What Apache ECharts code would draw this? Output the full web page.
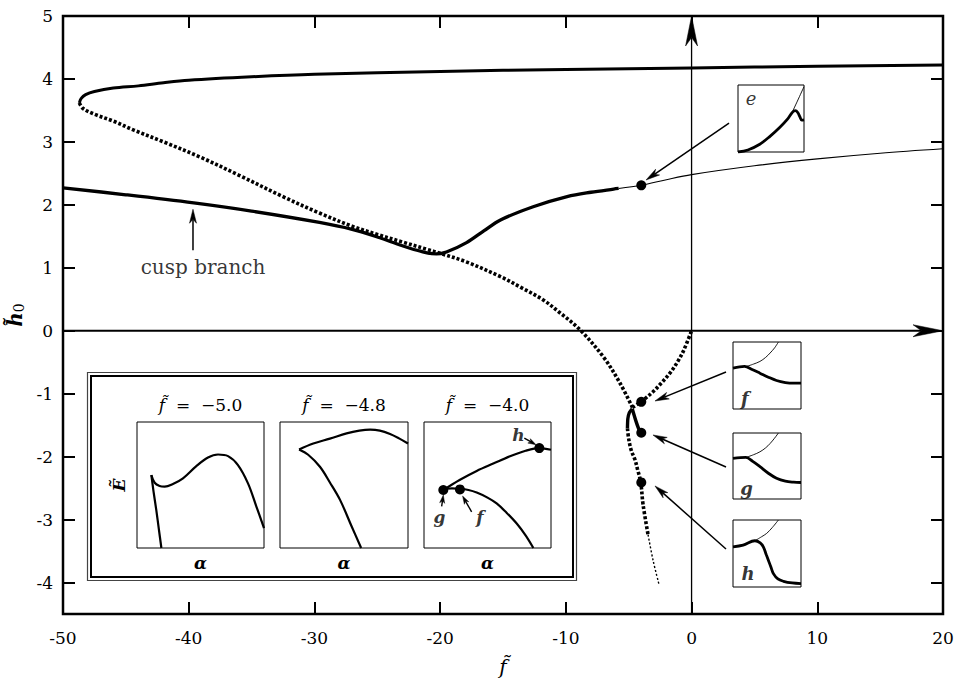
<!DOCTYPE html>
<html>
<head>
<meta charset="utf-8">
<script src="https://cdn.jsdelivr.net/npm/echarts@6/dist/echarts.min.js"></script>
<style>html,body{margin:0;padding:0;background:#fff;}#c{width:956px;height:682px;}</style>
</head>
<body>
<div id="c"></div>
<script>
// ---------- data ----------
const xTickValues = [-50, -40, -30, -20, -10, 0, 10, 20];
const yTickValues = [-4, -3, -2, -1, 0, 1, 2, 3, 4, 5];

const upperSolid = [[-48.7,3.62],[-48.55,3.69],[-48.2,3.75],[-47.5,3.80],[-46,3.855],[-44,3.89],[-42,3.94],[-40,3.98],[-35,4.035],[-30,4.075],[-20,4.12],[-10,4.15],[0,4.175],[10,4.2],[20,4.22]];
const upperDotted = [[-48.7,3.62],[-48.4,3.53],[-47.5,3.44],[-46,3.33],[-44.4,3.19],[-42,3.0],[-39.1,2.76],[-36,2.47],[-32.5,2.13],[-29.6,1.87],[-27,1.66],[-25,1.53],[-23,1.41],[-21,1.29],[-20,1.23],[-18,1.10],[-15.2,0.86],[-13.5,0.68],[-11.8,0.49],[-10.5,0.29],[-8.9,0.02],[-7,-0.42],[-5.7,-0.83],[-4.7,-1.22]];
const cuspToOrigin = [[-4.7,-1.22],[-3.9,-1.11],[-3.07,-0.97],[-2.4,-0.83],[-1.71,-0.67],[-1.1,-0.49],[-0.6,-0.3],[0,0]];
const cuspSolidLeft = [[-4.72,-1.24],[-4.95,-1.3],[-5.07,-1.4],[-5.1,-1.55]];
const cuspSolidRight = [[-4.72,-1.24],[-4.45,-1.42],[-4.2,-1.56],[-4.0,-1.62]];
const lowerDotted = [[-5.1,-1.55],[-5.0,-1.72],[-4.8,-1.9],[-4.5,-2.05],[-4.3,-2.2],[-4.05,-2.4],[-3.86,-2.76],[-3.46,-3.24]];
const lowerThinDotted = [[-3.46,-3.24],[-3.06,-3.65],[-2.59,-4.03]];
const cuspBranch = [[-50,2.27],[-45,2.16],[-39.6,2.03],[-35,1.9],[-29.6,1.72],[-27,1.61],[-25,1.49],[-23,1.35],[-21.5,1.26],[-20.3,1.22],[-19.5,1.25],[-17.9,1.40],[-16.5,1.59],[-15.2,1.76],[-12.6,1.97],[-9.9,2.13],[-8,2.2],[-6.2,2.25],[-5.8,2.26]];
const thinBranch = [[-5.8,2.26],[-4,2.31],[-2,2.40],[0,2.48],[5,2.62],[10,2.73],[15,2.82],[20,2.89]];
const mainPoints = [[-4,2.31],[-4,-1.13],[-4,-1.62],[-4,-2.41]];
const axisArrowsThin = [[0,-4.5,0,5]];
const axisArrowsThick = [[-50,0,20,0]];
const annotArrows = [[-39.66,1.28,-39.66,1.93],[2.98,3.30,-3.62,2.395],[2.74,-0.655,-2.91,-1.116],[2.74,-2.165,-3.07,-1.656],[2.74,-3.467,-2.91,-2.466]];
const mainTexts = [{name:'cusp branch', value:[-38.86,1.01]}];

// inset panels (normalized 0..1 coordinates)
const panelValues = ['\u22125.0', '\u22124.8', '\u22124.0'];
const p1Upper = [[0.113,0.579],[0.139,0.518],[0.178,0.492],[0.218,0.487],[0.283,0.508],[0.362,0.553],[0.467,0.65],[0.559,0.718],[0.638,0.742],[0.717,0.729],[0.795,0.658],[0.874,0.513],[0.94,0.329],[1.0,0.158]];
const p1Lower = [[0.113,0.579],[0.13,0.45],[0.152,0.30],[0.172,0.15],[0.192,0]];
const p2Upper = [[0.149,0.782],[0.26,0.829],[0.39,0.868],[0.52,0.91],[0.62,0.932],[0.704,0.94],[0.78,0.932],[0.86,0.905],[0.93,0.87],[1.0,0.829]];
const p2Lower = [[0.149,0.782],[0.22,0.74],[0.312,0.645],[0.39,0.52],[0.469,0.382],[0.56,0.171],[0.634,0]];
const p3Upper = [[0.152,0.46],[0.28,0.54],[0.415,0.612],[0.55,0.672],[0.677,0.728],[0.80,0.772],[0.908,0.793],[1.0,0.78]];
const p3Lower = [[0.17,0.47],[0.22,0.474],[0.283,0.47],[0.35,0.46],[0.415,0.44],[0.5,0.40],[0.572,0.354],[0.65,0.28],[0.73,0.194],[0.80,0.10],[0.861,0]];
const p3Points = [[0.152,0.46],[0.283,0.465],[0.908,0.793]];
const p3Texts = [{name:'g', value:[0.121,0.25]},{name:'f', value:[0.441,0.25]},{name:'h', value:[0.743,0.899]}];
const p3Arrows = [[0.139,0.33,0.152,0.42],[0.375,0.287,0.304,0.412],[0.79,0.872,0.882,0.819]];

// small boxes e, f, g, h
const boxEThick = [[0,0],[0.15,0.03],[0.33,0.116],[0.48,0.23],[0.635,0.37],[0.75,0.49],[0.827,0.596],[0.868,0.618],[0.905,0.59],[0.94,0.52],[0.965,0.475],[1.0,0.48]];
const boxEThin = [[0.81,0.57],[0.9,0.76],[1.0,0.975]];
const boxFThick = [[0,0.61],[0.17,0.635],[0.28,0.59],[0.396,0.535],[0.52,0.475],[0.64,0.425],[0.77,0.395],[0.89,0.385],[1.0,0.385]];
const boxFThin = [[0.2,0.635],[0.3,0.67],[0.396,0.71],[0.48,0.77],[0.545,0.835],[0.61,0.91],[0.668,1.0]];
const boxGThick = [[0,0.615],[0.19,0.63],[0.29,0.57],[0.396,0.49],[0.52,0.39],[0.64,0.315],[0.77,0.27],[0.89,0.255],[1.0,0.25]];
const boxGThin = [[0.19,0.63],[0.3,0.67],[0.396,0.715],[0.48,0.775],[0.545,0.84],[0.61,0.92],[0.668,1.0]];
const boxHThick = [[0,0.6],[0.149,0.625],[0.322,0.69],[0.40,0.66],[0.446,0.6],[0.49,0.48],[0.52,0.4],[0.56,0.29],[0.594,0.2],[0.66,0.12],[0.743,0.085],[0.87,0.06],[1.0,0.05]];
const boxHThin = [[0.322,0.69],[0.42,0.75],[0.495,0.8],[0.58,0.89],[0.668,1.0]];
const boxLabels = [[{name:'e', value:[0.2,0.8]}],[{name:'f', value:[0.173,0.16]}],[{name:'g', value:[0.198,0.165]}],[{name:'h', value:[0.223,0.2]}]];

// ---------- chart ----------
const TSERIF = "'DejaVu Serif', serif";
const chart = echarts.init(document.getElementById('c'), null, {renderer: 'svg'});

function arrowRender(lw, hl, hw) {
  return function (params, api) {
    const p1 = api.coord([api.value(0), api.value(1)]);
    const p2 = api.coord([api.value(2), api.value(3)]);
    const dx = p2[0]-p1[0], dy = p2[1]-p1[1];
    const L = Math.hypot(dx, dy) || 1;
    const ux = dx/L, uy = dy/L, nx = -uy, ny = ux;
    const bx = p2[0]-ux*hl, by = p2[1]-uy*hl;
    const mx = p2[0]-ux*hl*0.72, my = p2[1]-uy*hl*0.72;
    return {type:'group', children:[
      {type:'line', shape:{x1:p1[0], y1:p1[1], x2:mx, y2:my}, style:{stroke:'#000', lineWidth:lw}},
      {type:'polygon', shape:{points:[[p2[0],p2[1]],[bx+nx*hw/2,by+ny*hw/2],[mx,my],[bx-nx*hw/2,by-ny*hw/2]]}, style:{fill:'#000', stroke:'#000', lineWidth:0.5}}
    ]};
  };
}

const grids = [
  {left:63, top:16, width:880, height:598, show:true, borderColor:'#000', borderWidth:2.5},
  {left:137, top:422, width:127, height:126, show:true, borderColor:'#000', borderWidth:1},
  {left:280, top:422, width:128, height:126, show:true, borderColor:'#000', borderWidth:1},
  {left:424, top:422, width:127, height:126, show:true, borderColor:'#000', borderWidth:1},
  {left:738, top:85, width:66, height:67, show:true, borderColor:'#000', borderWidth:1},
  {left:733, top:342, width:68, height:67, show:true, borderColor:'#000', borderWidth:1},
  {left:733, top:433, width:68, height:66, show:true, borderColor:'#000', borderWidth:1},
  {left:733, top:520, width:68, height:67, show:true, borderColor:'#000', borderWidth:1}
].map(g => Object.assign({outerBoundsMode:'none', containLabel:false}, g));

const labelStyle = {fontFamily: TSERIF, fontSize: 17, color: '#000'};
const tickStyle = {inside:true, length:12, lineStyle:{width:2, color:'#000'}};
const xAxes = [
  {gridIndex:0, type:'value', min:-50, max:20, interval:10, position:'bottom',
   axisLine:{show:false, onZero:false}, splitLine:{show:false},
   axisTick:tickStyle,
   axisLabel:Object.assign({margin:15}, labelStyle),
   name:'f\u0303', nameLocation:'middle', nameGap:43,
   nameTextStyle:{fontFamily:TSERIF, fontStyle:'italic', fontSize:20, color:'#000'}},
  {gridIndex:0, type:'value', min:-50, max:20, interval:10, position:'top',
   axisLine:{show:false, onZero:false}, splitLine:{show:false}, axisLabel:{show:false},
   axisTick:tickStyle}
];
const yAxes = [
  {gridIndex:0, type:'value', min:-4.5, max:5, position:'left',
   axisLine:{show:false, onZero:false}, splitLine:{show:false},
   axisTick:Object.assign({customValues:yTickValues}, tickStyle),
   axisLabel:Object.assign({margin:10, customValues:yTickValues}, labelStyle),
   name:'{a|h\u0303}{b|0}', nameLocation:'middle', nameGap:32, nameRotate:90,
   nameTextStyle:{rich:{a:{fontFamily:TSERIF, fontStyle:'italic', fontWeight:'bold', fontSize:20, color:'#000'},
                        b:{fontFamily:TSERIF, fontSize:14, color:'#000', padding:[8,0,0,0]}}}},
  {gridIndex:0, type:'value', min:-4.5, max:5, position:'right',
   axisLine:{show:false, onZero:false}, splitLine:{show:false}, axisLabel:{show:false},
   axisTick:Object.assign({customValues:yTickValues}, tickStyle)}
];
const hidden = {axisLine:{show:false, onZero:false}, axisTick:{show:false}, axisLabel:{show:false}, splitLine:{show:false}};
for (let g = 1; g <= 7; g++) {
  const xa = Object.assign({gridIndex:g, type:'value', min:0, max:1}, hidden);
  if (g <= 3) {
    xa.name = '\u03b1'; xa.nameLocation = 'middle'; xa.nameGap = 6;
    xa.nameTextStyle = {fontFamily:TSERIF, fontStyle:'italic', fontWeight:'bold', fontSize:17, color:'#000', verticalAlign:'top'};
  }
  xAxes.push(xa);
  const ya = Object.assign({gridIndex:g, type:'value', min:0, max:1}, hidden);
  if (g === 1) {
    ya.name = '\u1EBC'; ya.nameLocation = 'middle'; ya.nameGap = 10; ya.nameRotate = 90;
    ya.nameTextStyle = {fontFamily:TSERIF, fontStyle:'italic', fontWeight:'bold', fontSize:17, color:'#000'};
  }
  yAxes.push(ya);
}
for (let g = 1; g <= 3; g++) {
  xAxes.push(Object.assign({gridIndex:g, type:'value', min:0, max:1, position:'top',
    name:'{i|f\u0303}{n|\u00a0\u00a0=\u00a0\u00a0' + panelValues[g-1] + '}', nameLocation:'middle', nameGap:9,
    nameTextStyle:{verticalAlign:'bottom',
      rich:{i:{fontFamily:TSERIF, fontStyle:'italic', fontSize:17, color:'#000'},
            n:{fontFamily:TSERIF, fontSize:17, color:'#000'}}}}, hidden));
}

function line(data, g, width, type, smooth) {
  return {type:'line', data:data, xAxisIndex:g===0?0:g+1, yAxisIndex:g===0?0:g+1,
    symbol:'none', smooth: smooth===undefined?0.35:smooth, animation:false, z:3,
    lineStyle:{color:'#000', width:width, type:type||'solid', cap:'butt', opacity:1}};
}
const DOT = [3, 2];
const pointStyle = {color:'#000', opacity:1};
const series = [
  line(upperSolid, 0, 3),
  line(upperDotted, 0, 3.6, DOT),
  line(cuspToOrigin, 0, 3.6, DOT),
  line(cuspSolidLeft, 0, 3.4, 'solid', 0.2),
  line(cuspSolidRight, 0, 3.4, 'solid', 0.2),
  line(lowerDotted, 0, 3.6, DOT),
  line(lowerThinDotted, 0, 1.4, [2,2]),
  line(cuspBranch, 0, 3.3),
  line(thinBranch, 0, 1.1),
  {type:'scatter', data:mainPoints, xAxisIndex:0, yAxisIndex:0, symbolSize:10, itemStyle:pointStyle, z:5, animation:false},
  {type:'custom', data:axisArrowsThick, xAxisIndex:0, yAxisIndex:0, renderItem:arrowRender(2.2, 30, 12), encode:{x:[0,2], y:[1,3]}, z:4, animation:false},
  {type:'custom', data:axisArrowsThin, xAxisIndex:0, yAxisIndex:0, renderItem:arrowRender(1.3, 30, 12), encode:{x:[0,2], y:[1,3]}, z:4, animation:false},
  {type:'custom', data:annotArrows, xAxisIndex:0, yAxisIndex:0, renderItem:arrowRender(1.5, 14, 7), encode:{x:[0,2], y:[1,3]}, z:4, animation:false},
  {type:'scatter', data:mainTexts, xAxisIndex:0, yAxisIndex:0, symbolSize:1, itemStyle:{color:'rgba(0,0,0,0)'}, animation:false,
   label:{show:true, position:'inside', formatter:'{b}', fontFamily:TSERIF, fontSize:20, color:'#000'}},
  // panels
  line(p1Upper, 1, 2.2), line(p1Lower, 1, 2.2),
  line(p2Upper, 2, 2.2), line(p2Lower, 2, 2.2),
  line(p3Upper, 3, 2.2), line(p3Lower, 3, 2.2),
  {type:'scatter', data:p3Points, xAxisIndex:4, yAxisIndex:4, symbolSize:10, itemStyle:pointStyle, z:5, animation:false},
  {type:'custom', data:p3Arrows, xAxisIndex:4, yAxisIndex:4, renderItem:arrowRender(1.4, 8, 5), encode:{x:[0,2], y:[1,3]}, z:4, animation:false},
  {type:'scatter', data:p3Texts, xAxisIndex:4, yAxisIndex:4, symbolSize:1, itemStyle:{color:'rgba(0,0,0,0)'}, animation:false,
   label:{show:true, position:'inside', formatter:'{b}', fontFamily:TSERIF, fontStyle:'italic', fontWeight:'bold', fontSize:17, color:'#000'}},
  // small boxes
  line(boxEThick, 4, 2.8), line(boxEThin, 4, 0.9),
  line(boxFThick, 5, 2.8), line(boxFThin, 5, 0.9),
  line(boxGThick, 6, 2.8), line(boxGThin, 6, 0.9),
  line(boxHThick, 7, 2.8), line(boxHThin, 7, 0.9)
];
const boxLetterWeight = ['normal', 'bold', 'bold', 'bold'];
for (let k = 0; k < 4; k++) {
  series.push({type:'scatter', data:boxLabels[k], xAxisIndex:k+5, yAxisIndex:k+5, symbolSize:1, itemStyle:{color:'rgba(0,0,0,0)'}, animation:false,
    label:{show:true, position:'inside', formatter:'{b}', fontFamily:TSERIF, fontStyle:'italic', fontWeight:boxLetterWeight[k], fontSize:18, color:'#000'}});
}

chart.setOption({
  animation:false,
  backgroundColor:'#fff',
  grid:grids,
  xAxis:xAxes,
  yAxis:yAxes,
  series:series,
  graphic:[
    {type:'rect', shape:{x:87.5, y:372.5, width:489, height:208}, style:{fill:'none', stroke:'#444', lineWidth:1.2}, z:1},
    {type:'rect', shape:{x:91, y:376, width:482, height:201}, style:{fill:'none', stroke:'#000', lineWidth:2}, z:1}
  ]
});
</script>
</body>
</html>
